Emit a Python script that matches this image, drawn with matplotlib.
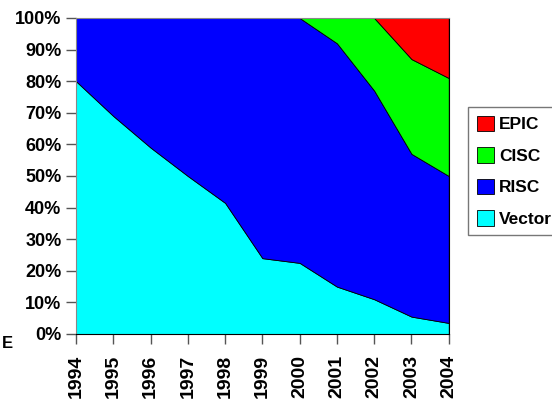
import matplotlib.pyplot as plt
import numpy as np

plt.rcParams['font.family'] = ['Liberation Sans', 'DejaVu Sans']

# Share of each architecture by year (percent)
years = [1994, 1995, 1996, 1997, 1998, 1999, 2000, 2001, 2002, 2003, 2004]
vector = [80, 69, 59, 50, 41.5, 24, 22.5, 15, 11, 5.5, 3.5]
risc = [20, 31, 41, 50, 58.5, 76, 77.5, 77, 66, 51.5, 46.5]
cisc = [0, 0, 0, 0, 0, 0, 0, 8, 23, 30, 31]
epic = [0, 0, 0, 0, 0, 0, 0, 0, 0, 13, 19]

names = ['Vector', 'RISC', 'CISC', 'EPIC']
colors = ['#00FFFF', '#0000FF', '#00FF00', '#FF0000']

fig = plt.figure(figsize=(5.52, 4.0), dpi=100)
ax = fig.add_axes([0.1377, 0.165, 0.6753, 0.79])

ax.stackplot(years, vector, risc, cisc, epic, labels=names, colors=colors,
             edgecolor='black', linewidth=0.6)

ax.set_xlim(1994, 2004)
ax.set_ylim(0, 100)
ax.set_yticks(np.arange(0, 101, 10))
ax.set_yticklabels([f'{v}%' for v in range(0, 101, 10)])
ax.set_xticks(years)
ax.set_xticklabels([str(y) for y in years], rotation=90)
ax.tick_params(axis='both', labelsize=13, direction='out', length=7, width=1, color='#555555')
ax.tick_params(axis='x', pad=8, labelsize=14)
for lab in ax.get_xticklabels() + ax.get_yticklabels():
    lab.set_fontweight('bold')

for side in ['top', 'left']:
    ax.spines[side].set_color('#888888')
for side in ['bottom', 'right']:
    ax.spines[side].set_color('black')

handles, labels = ax.get_legend_handles_labels()
leg = fig.legend(handles[::-1], labels[::-1], loc='center left',
                 bbox_to_anchor=(0.848, 0.572), frameon=True, fancybox=False,
                 prop={'size': 12.5, 'weight': 'bold'}, handlelength=1.0,
                 handleheight=1.0, handletextpad=0.3, labelspacing=0.85,
                 borderpad=0.5, borderaxespad=0)
leg.get_frame().set_edgecolor('#555555')
leg.get_frame().set_linewidth(1)
for h in leg.legend_handles:
    h.set_edgecolor('black')
    h.set_linewidth(0.6)

# clipped label fragment at lower left
fig.text(0.004, 0.142, 'E', fontsize=12, fontweight='bold', ha='left', va='center')

fig.savefig('out.png', dpi=100)
